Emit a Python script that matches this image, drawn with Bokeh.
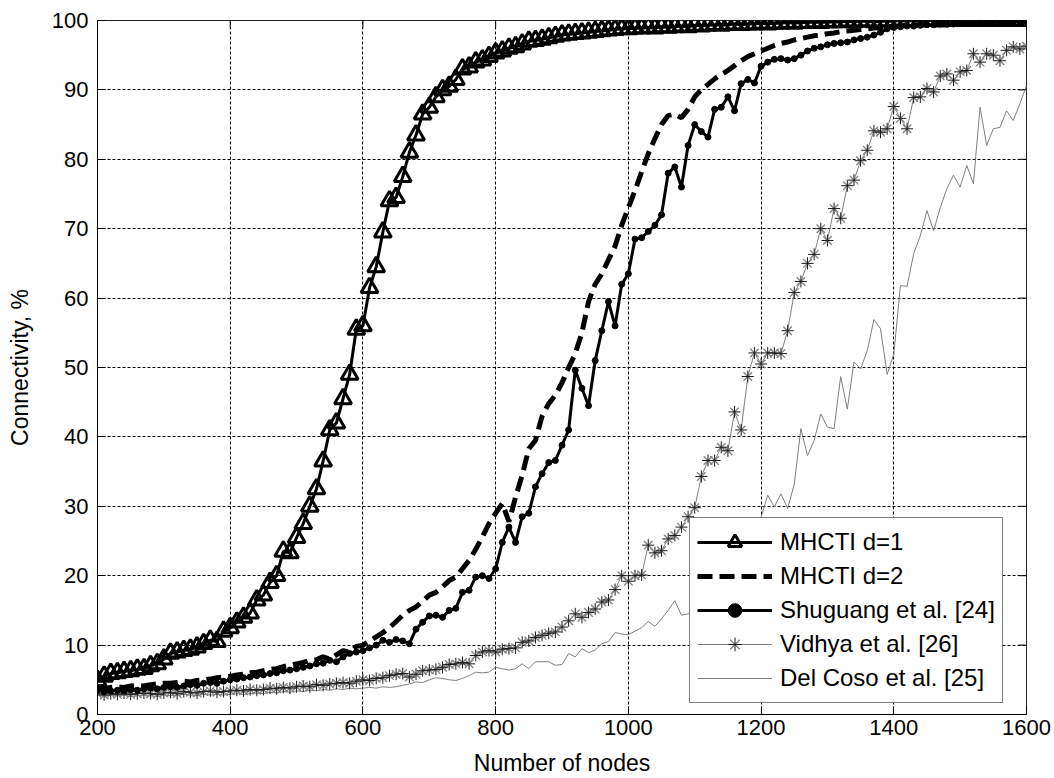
from bokeh.plotting import figure
from bokeh.models import Legend, LegendItem, FixedTicker, Range1d
from bokeh.embed import file_html
from bokeh.resources import INLINE

# ---- data (x sampled every 10 nodes) ----
nodes = list(range(200, 1601, 10))

mhcti_d1 = [
    4.9, 5.5, 5.9, 6.0, 6.2, 6.3, 6.5, 6.6, 7.0, 7.3,
    8.0, 8.8, 9.0, 9.2, 9.4, 9.7, 10.2, 10.7, 10.5, 12.0,
    12.5, 13.3, 14.0, 14.6, 16.5, 17.2, 19.0, 20.0, 23.5, 23.3,
    25.5, 27.5, 30.0, 32.5, 36.5, 41.0, 42.0, 45.5, 49.0, 55.5,
    56.0, 61.5, 64.5, 69.5, 74.0, 74.5, 77.5, 81.0, 83.5, 86.5,
    87.5, 89.0, 90.0, 90.5, 91.5, 93.0, 93.3, 94.0, 94.3, 94.8,
    95.3, 95.6, 96.0, 96.2, 96.6, 97.0, 97.1, 97.3, 97.5, 97.7,
    97.9, 98.0, 98.1, 98.2, 98.3, 98.4, 98.5, 98.6, 98.7, 98.8,
    98.8, 98.9, 98.9, 99.0, 98.9, 99.1, 99.0, 99.1, 99.2, 99.1,
    99.3, 99.2, 99.3, 99.4, 99.3, 99.4, 99.5, 99.4, 99.5, 99.5,
    99.6, 99.5, 99.6, 99.6, 99.7, 99.6, 99.7, 99.7, 99.8, 99.7,
    99.8, 99.8, 99.8, 99.9, 99.8, 99.9, 99.9, 99.8, 99.9, 99.9,
    99.9, 100.0, 99.9, 100.0, 99.9, 100.0, 100.0, 99.9, 100.0, 100.0,
    100.0, 100.0, 100.0, 100.0, 100.0, 100.0, 100.0, 100.0, 100.0, 100.0,
    100.0,
]

mhcti_d2 = [
    4.0, 3.8, 3.9, 4.0, 3.9, 4.1, 4.2, 4.1, 4.3, 4.4,
    4.5, 4.5, 4.6, 4.8, 4.7, 4.9, 5.0, 5.1, 5.3, 5.4,
    5.5, 5.7, 5.8, 6.0, 6.1, 6.3, 6.5, 6.6, 6.9, 7.1,
    7.3, 7.5, 7.8, 7.9, 8.3, 8.0, 8.6, 9.2, 9.0, 9.8,
    10.0, 10.6, 11.2, 11.8, 12.5, 13.4, 14.3, 15.0, 15.5, 16.3,
    17.2, 17.6, 18.4, 19.3, 19.8, 21.0, 22.2, 23.8, 25.6, 27.5,
    29.0, 30.4, 27.8, 31.3, 34.5, 38.3, 39.5, 43.0, 44.8, 46.0,
    47.8, 50.0, 52.0, 55.0, 59.5, 62.0, 63.5, 65.5, 67.5, 70.5,
    73.0, 75.5, 78.2, 80.8, 83.0, 85.0, 86.3, 86.5, 86.0, 87.2,
    89.0, 90.0, 90.8, 91.6, 92.2, 92.8, 93.5, 94.2, 94.8, 95.2,
    95.6, 96.0, 96.4, 96.7, 96.9, 97.2, 97.4, 97.6, 97.8, 97.9,
    98.1, 98.2, 98.4, 98.5, 98.6, 98.7, 98.8, 98.9, 99.0, 99.1,
    99.2, 99.2, 99.3, 99.3, 99.4, 99.4, 99.5, 99.5, 99.5, 99.6,
    99.6, 99.6, 99.7, 99.7, 99.7, 99.8, 99.8, 99.8, 99.8, 99.9,
    99.9,
]

shuguang = [
    3.5, 3.3, 3.4, 3.5, 3.4, 3.6, 3.5, 3.7, 3.8, 3.7,
    3.9, 4.0, 3.9, 4.1, 4.3, 4.2, 4.5, 4.6, 4.5, 4.8,
    5.0, 5.1, 5.3, 5.4, 5.6, 5.7, 5.9, 6.0, 6.3, 6.4,
    6.6, 6.8, 7.0, 7.3, 7.4, 7.8, 7.6, 8.3, 8.8, 9.0,
    9.2, 9.6, 10.0, 10.7, 10.4, 10.8, 10.6, 10.2, 12.3, 13.3,
    14.2, 14.3, 14.0, 15.0, 15.3, 17.6, 17.9, 19.8, 20.0, 19.6,
    21.0, 24.8, 27.0, 24.8, 28.5, 29.0, 32.8, 34.7, 36.3, 36.6,
    38.8, 41.0, 49.6, 47.0, 44.5, 51.0, 55.3, 59.5, 56.0, 62.0,
    63.5, 68.5, 68.7, 69.6, 70.5, 72.0, 78.0, 78.9, 76.0, 82.0,
    85.0, 84.0, 83.2, 87.2, 87.5, 89.0, 87.0, 90.9, 91.5, 91.0,
    93.4, 94.0, 94.4, 94.5, 94.3, 94.5, 95.0, 95.6, 96.0, 96.2,
    96.5, 96.7, 96.8, 96.9, 97.2, 97.4, 97.6, 97.9, 98.3, 98.8,
    99.0, 99.1, 99.2, 99.2, 99.3, 99.4, 99.4, 99.5, 99.5, 99.5,
    99.6, 99.6, 99.6, 99.7, 99.7, 99.7, 99.8, 99.8, 99.8, 99.8,
    99.8,
]

vidhya = [
    3.0, 2.8, 3.0, 2.9, 3.1, 2.9, 3.0, 3.1, 3.0, 2.9,
    3.1, 3.2, 3.0, 3.3, 3.2, 3.1, 3.3, 3.4, 3.2, 3.3,
    3.4, 3.5, 3.4, 3.6, 3.5, 3.6, 3.8, 3.7, 3.9, 3.8,
    4.0, 4.1, 4.0, 4.3, 4.2, 4.4, 4.5, 4.6, 4.5, 4.8,
    5.0, 4.9, 5.2, 5.3, 5.6, 5.8, 5.9, 5.4, 5.8, 6.3,
    6.4, 6.5, 6.8, 7.2, 7.3, 7.5, 7.3, 8.5, 9.0, 9.2,
    9.0, 9.4, 9.5, 9.6, 10.4, 10.6, 11.1, 11.4, 11.7, 11.9,
    12.6, 13.5, 14.5, 14.0, 14.7, 15.2, 16.2, 16.5, 18.0, 20.0,
    19.2, 20.0, 20.1, 24.4, 23.3, 23.6, 25.3, 25.8, 27.0, 28.5,
    29.8, 34.3, 36.6, 36.6, 38.5, 38.0, 43.6, 41.0, 48.7, 52.1,
    50.5, 52.1, 52.1, 52.0, 55.3, 60.8, 62.4, 65.0, 66.3, 70.0,
    68.3, 72.9, 71.5, 76.2, 77.0, 79.8, 81.3, 84.1, 83.9, 84.4,
    87.6, 85.9, 84.4, 88.9, 89.0, 90.2, 89.7, 92.0, 92.3, 91.4,
    92.6, 92.8, 95.2, 94.0, 95.2, 95.0, 94.2, 95.7, 96.2, 95.9,
    96.3,
]

del_coso = [
    2.9, 2.7, 2.8, 2.7, 2.8, 2.6, 2.7, 2.8, 2.7, 2.6,
    2.8, 2.7, 2.8, 2.9, 2.8, 2.7, 2.9, 2.8, 2.9, 2.8,
    2.9, 3.0, 2.9, 3.0, 3.1, 3.0, 3.2, 3.1, 3.3, 3.2,
    3.4, 3.3, 3.5, 3.4, 3.6, 3.5, 3.7, 3.6, 3.8, 3.7,
    3.8, 3.9, 3.8, 4.0, 3.9, 4.0, 4.2, 4.4, 4.7, 4.6,
    5.0, 5.3, 5.2, 5.0, 4.9, 5.2, 5.6, 6.1, 6.0, 6.1,
    6.8, 6.6, 6.4, 6.6, 7.3, 6.6, 7.6, 7.6, 7.6, 7.1,
    7.2, 8.8, 8.3, 9.5, 8.9, 9.3, 10.2, 10.5, 11.8, 11.6,
    11.5, 12.0, 12.5, 13.4, 12.7, 13.8, 15.0, 16.4, 14.3, 14.5,
    15.5, 17.0, 18.0, 19.5, 20.3, 21.5, 23.0, 24.2, 25.5, 27.0,
    28.4, 31.6, 29.9, 31.8, 29.7, 33.2, 41.2, 37.3, 39.5, 43.3,
    41.4, 41.2, 48.7, 44.0, 50.8, 49.8, 52.4, 56.9, 55.6, 49.0,
    51.9, 61.8, 61.7, 66.4, 69.0, 72.6, 69.7, 73.0, 75.8, 77.7,
    76.0, 79.1, 76.5, 87.5, 82.0, 84.4, 84.6, 87.0, 85.6, 88.0,
    90.6,
]

x_ticks = [200, 400, 600, 800, 1000, 1200, 1400, 1600]
y_ticks = [0, 10, 20, 30, 40, 50, 60, 70, 80, 90, 100]

FONT = "Liberation Sans"
TICK_FS = "22px"
LABEL_FS = "23px"
LEGEND_FS = "24px"

X0, X1 = x_ticks[0], x_ticks[-1]
Y0, Y1 = y_ticks[0], y_ticks[-1]

p = figure(width=1054, height=778, output_backend="svg", toolbar_location=None,
           x_range=Range1d(X0, X1), y_range=Range1d(Y0, Y1),
           min_border_left=97, min_border_right=28, min_border_top=20, min_border_bottom=64)
p.background_fill_color = "white"
p.border_fill_color = "white"
p.outline_line_color = "#222222"
p.outline_line_width = 1

for ax, ticks in ((p.xaxis[0], x_ticks), (p.yaxis[0], y_ticks)):
    ax.ticker = FixedTicker(ticks=ticks)
    ax.major_tick_in = 8
    ax.major_tick_out = 0
    ax.minor_tick_line_color = None
    ax.axis_line_color = "black"
    ax.major_tick_line_color = "black"
    ax.major_label_text_font = FONT
    ax.major_label_text_font_size = TICK_FS
    ax.major_label_text_color = "black"
    ax.axis_label_text_font = FONT
    ax.axis_label_text_font_size = LABEL_FS
    ax.axis_label_text_font_style = "normal"
    ax.axis_label_text_color = "black"

p.xaxis.axis_label = "Number of nodes"
p.yaxis.axis_label = "Connectivity, %"
p.xaxis.major_label_standoff = 5
p.yaxis.major_label_standoff = 9
p.xaxis.axis_label_standoff = 12
p.yaxis.axis_label_standoff = 16

for g in (p.xgrid[0], p.ygrid[0]):
    g.grid_line_color = "black"
    g.grid_line_dash = "3 2"
    g.grid_line_width = 1
    g.grid_line_alpha = 1.0

# mirrored inner ticks on the top and right frame edges (8 px long)
tick_dx = (X1 - X0) / 929 * 8
tick_dy = (Y1 - Y0) / 694 * 8
p.segment(x0=[X1] * len(y_ticks), y0=y_ticks, x1=[X1 - tick_dx] * len(y_ticks), y1=y_ticks,
          line_color="black", line_width=1)
p.segment(x0=x_ticks, y0=[Y1] * len(x_ticks), x1=x_ticks, y1=[Y1 - tick_dy] * len(x_ticks),
          line_color="black", line_width=1)

# ---- series ----
r_dc = p.line(nodes, del_coso, line_color="#7f7f7f", line_width=1)

r_vl = p.line(nodes, vidhya, line_color="#7f7f7f", line_width=1)
r_vx = p.scatter(nodes, vidhya, marker="x", size=12, line_color="#808080", line_width=1.3, fill_color=None)
r_vc = p.scatter(nodes, vidhya, marker="cross", size=12, line_color="#1a1a1a", line_width=1, fill_color=None)

r_sl = p.line(nodes, shuguang, line_color="black", line_width=3)
r_sd = p.scatter(nodes, shuguang, marker="circle", size=6, line_color="black", fill_color="black")

r_d2 = p.line(nodes, mhcti_d2, line_color="black", line_width=5, line_dash="15 7")

r_d1l = p.line(nodes, mhcti_d1, line_color="black", line_width=3)
r_d1m = p.scatter(nodes, mhcti_d1, marker="triangle", size=17, line_color="black", line_width=3, fill_color=None)

legend = Legend(items=[
    LegendItem(label="MHCTI d=1", renderers=[r_d1l, r_d1m]),
    LegendItem(label="MHCTI d=2", renderers=[r_d2]),
    LegendItem(label="Shuguang et al. [24]", renderers=[r_sl, r_sd]),
    LegendItem(label="Vidhya et al. [26]", renderers=[r_vl, r_vx, r_vc]),
    LegendItem(label="Del Coso et al. [25]", renderers=[r_dc]),
], location=(592, 11))
legend.label_text_font = FONT
legend.label_text_font_size = LEGEND_FS
legend.label_text_color = "black"
legend.glyph_width = 75
legend.glyph_height = 34
legend.label_height = 34
legend.label_standoff = 8
legend.spacing = 0
legend.padding = 7
legend.margin = 0
legend.border_line_color = "black"
legend.border_line_width = 1
legend.background_fill_color = "white"
legend.background_fill_alpha = 1.0
p.add_layout(legend, "center")

open("out.html", "w").write(file_html(p, INLINE))
